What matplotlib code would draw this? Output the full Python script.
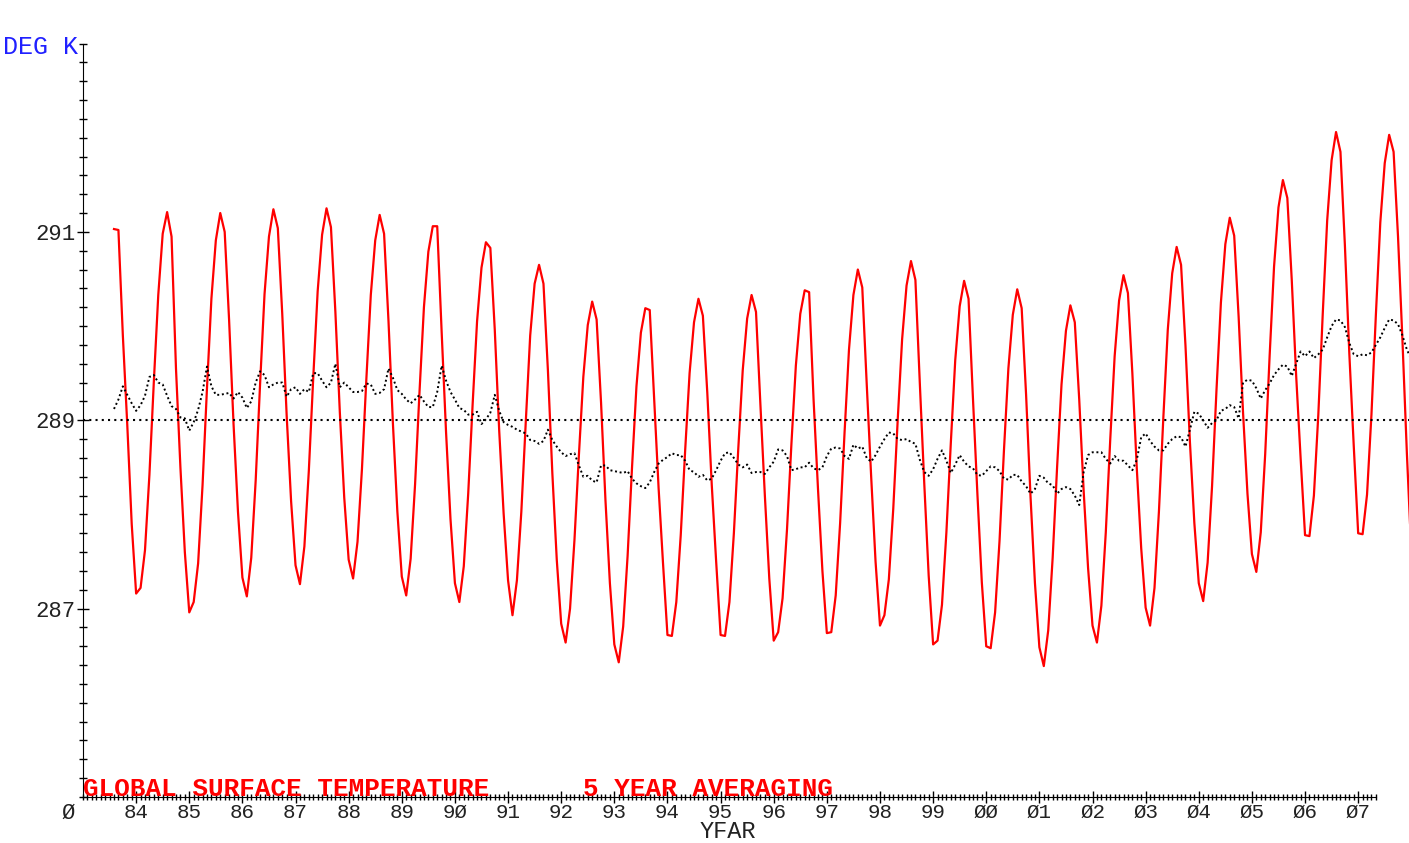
import numpy as np
import pandas as pd
import matplotlib
matplotlib.use('Agg')
import matplotlib.pyplot as plt
from matplotlib.ticker import FixedLocator

# monthly values, Jul 1983 .. Dec 2007
months = pd.date_range('1983-07-01', '2007-12-01', freq='MS')

# global surface temperature (deg K)
surface_temp = [
    291.03, 291.02, 289.90, 288.95, 287.90, 287.16,
    287.22, 287.62, 288.42, 289.41, 290.33, 290.98, 291.21, 290.95, 289.55, 288.50, 287.60, 286.96,
    287.07, 287.48, 288.31, 289.34, 290.29, 290.91, 291.20, 291.00, 290.06, 288.96, 288.03, 287.33,
    287.13, 287.54, 288.36, 289.39, 290.34, 290.95, 291.24, 291.04, 290.13, 289.05, 288.14, 287.46,
    287.26, 287.66, 288.46, 289.45, 290.37, 290.97, 291.25, 291.05, 290.15, 289.09, 288.18, 287.52,
    287.32, 287.71, 288.48, 289.44, 290.33, 290.91, 291.18, 290.98, 290.05, 288.96, 288.03, 287.34,
    287.14, 287.53, 288.32, 289.30, 290.20, 290.79, 291.06, 291.06, 289.94, 288.87, 287.95, 287.27,
    287.07, 287.45, 288.22, 289.17, 290.05, 290.62, 290.89, 290.83, 289.96, 288.89, 288.01, 287.30,
    286.93, 287.30, 288.03, 288.98, 289.90, 290.45, 290.65, 290.45, 289.53, 288.44, 287.52, 286.84,
    286.64, 287.00, 287.73, 288.63, 289.46, 290.01, 290.26, 290.07, 289.19, 288.15, 287.27, 286.62,
    286.43, 286.81, 287.56, 288.50, 289.36, 289.93, 290.19, 290.17, 289.22, 288.28, 287.48, 286.72,
    286.71, 287.07, 287.78, 288.68, 289.50, 290.04, 290.29, 290.11, 289.29, 288.32, 287.50, 286.72,
    286.71, 287.07, 287.80, 288.70, 289.53, 290.08, 290.33, 290.15, 289.16, 288.20, 287.32, 286.66,
    286.75, 287.11, 287.84, 288.75, 289.58, 290.13, 290.38, 290.36, 289.22, 288.27, 287.40, 286.74,
    286.75, 287.14, 287.91, 288.87, 289.75, 290.33, 290.60, 290.41, 289.39, 288.41, 287.50, 286.82,
    286.93, 287.31, 288.06, 289.00, 289.86, 290.43, 290.69, 290.49, 289.39, 288.33, 287.35, 286.62,
    286.66, 287.04, 287.81, 288.76, 289.64, 290.21, 290.48, 290.29, 289.23, 288.22, 287.28, 286.60,
    286.58, 286.96, 287.72, 288.68, 289.55, 290.12, 290.39, 290.19, 289.27, 288.19, 287.27, 286.59,
    286.39, 286.77, 287.54, 288.50, 289.38, 289.95, 290.22, 290.04, 289.22, 288.25, 287.43, 286.82,
    286.64, 287.03, 287.81, 288.79, 289.68, 290.27, 290.54, 290.35, 289.50, 288.49, 287.64, 287.01,
    286.82, 287.22, 288.03, 289.03, 289.96, 290.56, 290.84, 290.65, 289.79, 288.77, 287.91, 287.27,
    287.08, 287.49, 288.30, 289.32, 290.25, 290.87, 291.15, 290.96, 290.10, 289.08, 288.22, 287.58,
    287.39, 287.81, 288.64, 289.68, 290.63, 291.26, 291.55, 291.36, 290.49, 289.47, 288.60, 287.78,
    287.77, 288.20, 289.06, 290.13, 291.12, 291.76, 292.06, 291.85, 290.86, 289.71, 288.73, 287.80,
    287.79, 288.21, 289.06, 290.12, 291.10, 291.73, 292.03, 291.85, 290.95, 289.85, 288.65, 287.60,
]

# averaged temperature (dotted black)
avg_temp = [
    289.12, 289.22, 289.36, 289.27, 289.18, 289.10,
    289.16, 289.26, 289.46, 289.48, 289.40, 289.38, 289.26, 289.15, 289.12, 289.03, 289.02, 288.89,
    288.98, 289.11, 289.30, 289.57, 289.36, 289.27, 289.27, 289.28, 289.29, 289.23, 289.30, 289.24,
    289.13, 289.20, 289.40, 289.52, 289.48, 289.35, 289.38, 289.40, 289.40, 289.25, 289.33, 289.35,
    289.28, 289.33, 289.30, 289.50, 289.50, 289.42, 289.35, 289.40, 289.60, 289.35, 289.40, 289.35,
    289.30, 289.30, 289.31, 289.39, 289.38, 289.28, 289.29, 289.33, 289.55, 289.45, 289.32, 289.28,
    289.22, 289.18, 289.22, 289.27, 289.20, 289.14, 289.14, 289.30, 289.58, 289.42, 289.30, 289.22,
    289.13, 289.11, 289.06, 289.06, 289.09, 288.96, 289.01, 289.08, 289.27, 289.10, 288.98, 288.95,
    288.93, 288.90, 288.88, 288.86, 288.79, 288.78, 288.75, 288.78, 288.90, 288.79, 288.72, 288.66,
    288.62, 288.64, 288.65, 288.52, 288.40, 288.41, 288.36, 288.34, 288.52, 288.52, 288.47, 288.46,
    288.45, 288.44, 288.46, 288.38, 288.33, 288.30, 288.28, 288.34, 288.45, 288.54, 288.58, 288.61,
    288.65, 288.63, 288.63, 288.57, 288.47, 288.45, 288.40, 288.42, 288.36, 288.38, 288.47, 288.57,
    288.65, 288.66, 288.60, 288.53, 288.50, 288.53, 288.44, 288.45, 288.45, 288.43, 288.50, 288.56,
    288.69, 288.68, 288.62, 288.47, 288.48, 288.50, 288.50, 288.55, 288.49, 288.47, 288.50, 288.62,
    288.70, 288.71, 288.70, 288.62, 288.59, 288.74, 288.70, 288.72, 288.60, 288.56, 288.63, 288.72,
    288.80, 288.87, 288.86, 288.80, 288.79, 288.80, 288.77, 288.75, 288.58, 288.45, 288.41, 288.48,
    288.59, 288.68, 288.57, 288.44, 288.53, 288.63, 288.56, 288.51, 288.49, 288.42, 288.41, 288.46,
    288.51, 288.50, 288.46, 288.38, 288.37, 288.42, 288.42, 288.35, 288.30, 288.22, 288.27, 288.41,
    288.39, 288.33, 288.31, 288.22, 288.27, 288.29, 288.27, 288.20, 288.10, 288.45, 288.63, 288.66,
    288.66, 288.66, 288.59, 288.54, 288.62, 288.57, 288.57, 288.52, 288.47, 288.58, 288.82, 288.86,
    288.78, 288.72, 288.68, 288.68, 288.75, 288.80, 288.83, 288.82, 288.72, 288.90, 289.09, 289.07,
    289.00, 288.92, 288.97, 289.00, 289.10, 289.12, 289.16, 289.14, 289.02, 289.40, 289.43, 289.42,
    289.34, 289.23, 289.32, 289.39, 289.48, 289.54, 289.59, 289.57, 289.47, 289.60, 289.73, 289.68,
    289.73, 289.66, 289.70, 289.75, 289.88, 290.00, 290.07, 290.06, 289.99, 289.82, 289.70, 289.68,
    289.70, 289.69, 289.72, 289.80, 289.88, 289.98, 290.07, 290.06, 290.02, 289.90, 289.75, 289.65,
]

mean_temp = 289.0

year_ticks = list(range(1984, 2008))
year_labels = ['84', '85', '86', '87', '88', '89', '9Ø', '91', '92', '93', '94', '95',
               '96', '97', '98', '99', 'ØØ', 'Ø1', 'Ø2', 'Ø3', 'Ø4', 'Ø5', 'Ø6', 'Ø7']
temp_ticks = [287, 289, 291]
temp_labels = ['287', '289', '291']

# decimal year at end of each month
t = months.year + months.month / 12.0

W, H = 1409, 843
fig = plt.figure(figsize=(W / 100, H / 100), dpi=100)
ax = fig.add_axes([83 / W, 46 / H, 1328.3 / W, 753.5 / H])
ax.set_xlim(1983, 2008)
ax.set_ylim(285, 293)

ax.plot(t, surface_temp, color='#ff0000', lw=1.6)
ax.plot(t, avg_temp, color='black', lw=1.4, ls=(0, (1, 1.4)))
ax.axhline(mean_temp, color='black', lw=1.5, ls=(0, (1, 2)))

for s in ['top', 'right']:
    ax.spines[s].set_visible(False)
ax.spines['bottom'].set_bounds(1983, 2007.33)
ax.spines['left'].set_bounds(285, 293)

mono = 'Liberation Mono'
ax.xaxis.set_major_locator(FixedLocator(year_ticks))
ax.set_xticklabels(year_labels, fontfamily=mono, fontsize=15, color='#222222')
ax.xaxis.set_minor_locator(FixedLocator(np.arange(1983, 2007.34, 1 / 12)))
ax.yaxis.set_major_locator(FixedLocator(temp_ticks))
ax.set_yticklabels(temp_labels, fontfamily=mono, fontsize=16, color='#222222')
ax.yaxis.set_minor_locator(FixedLocator(np.arange(285, 293.01, 0.2)))

ax.tick_params(axis='x', which='major', direction='inout', length=9, width=1, pad=0)
ax.tick_params(axis='x', which='minor', direction='inout', length=5, width=1)
ax.tick_params(axis='y', which='major', direction='inout', length=9, width=1, pad=1)
ax.tick_params(axis='y', which='minor', direction='inout', length=6, width=1)

fig.text(3 / W, (H - 54) / H, 'DEG K', color='#2020ff', fontfamily=mono, fontsize=18,
         va='baseline')
fig.text(83 / W, (H - 796) / H, 'GLOBAL SURFACE TEMPERATURE      5 YEAR AVERAGING',
         color='#ff0000', fontfamily=mono, fontweight='bold', fontsize=18.7, va='baseline')
fig.text(61 / W, (H - 803) / H, 'Ø', fontfamily=mono, fontsize=16, va='top', color='#222222')
fig.text(728 / W, (H - 838) / H, 'YFAR', fontfamily=mono, fontsize=17, ha='center',
         va='baseline', color='#222222')

fig.savefig('out.png', dpi=100)
